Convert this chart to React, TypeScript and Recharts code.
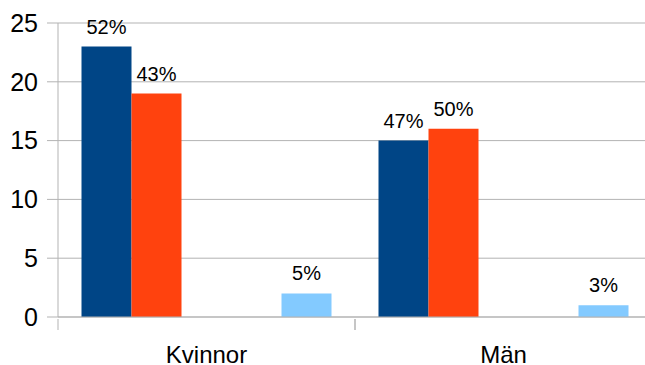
import React from 'react';
import { BarChart, Bar, XAxis, YAxis, CartesianGrid, LabelList } from 'recharts';

const categories = ['Kvinnor', 'Män'];
const seriesA = [23, 15];
const seriesB = [19, 16];
const seriesC = [0, 0];
const seriesD = [0, 0];
const seriesE = [2, 1];
const labelsA = ['52%', '47%'];
const labelsB = ['43%', '50%'];
const labelsE = ['5%', '3%'];
const yTicks = [0, 5, 10, 15, 20, 25];

const data = categories.map((name, i) => ({
    name,
    a: seriesA[i], b: seriesB[i], c: seriesC[i], d: seriesD[i], e: seriesE[i],
    la: labelsA[i], lb: labelsB[i], le: labelsE[i],
}));

const FONT = '"Liberation Sans", Arial, sans-serif';
const GRID = '#b3b3b3';
const BAND = 297;

const CategoryTick = (props: any) => {
    const { x, y, payload } = props;
    return (
        <g>
            <line x1={x - BAND / 2} x2={x - BAND / 2} y1={y} y2={y + 11} stroke={GRID} />
            <line x1={x + BAND / 2} x2={x + BAND / 2} y1={y} y2={y + 11} stroke={GRID} />
            <text x={x} y={y + 44} textAnchor="middle" fontSize={24} fill="#000" fontFamily={FONT}>
                {payload.value}
            </text>
        </g>
    );
};

const labelStyle = { fontSize: 20, fill: '#000', fontFamily: FONT };

export default function App() {
    return (
        <div style={{ position: 'absolute', left: 0, top: 0, width: 645, height: 365, overflow: 'hidden', background: '#fff' }}>
            <BarChart
                width={652}
                height={365}
                data={data}
                margin={{ top: 23, right: 0, left: 0, bottom: 0 }}
                barCategoryGap={23.5}
                barGap={0}
            >
                <CartesianGrid vertical={false} stroke={GRID} />
                <XAxis
                    dataKey="name"
                    height={48}
                    axisLine={{ stroke: GRID }}
                    tickLine={false}
                    tickSize={0}
                    tick={<CategoryTick />}
                    interval={0}
                />
                <YAxis
                    width={58}
                    domain={[0, 25]}
                    ticks={yTicks}
                    axisLine={{ stroke: GRID }}
                    tickLine={{ stroke: GRID }}
                    tickSize={11}
                    tickMargin={9}
                    tick={{ fontSize: 25, fill: '#000', fontFamily: FONT }}
                />
                <Bar dataKey="a" fill="#004586" isAnimationActive={false}>
                    <LabelList dataKey="la" position="top" offset={13} style={labelStyle} />
                </Bar>
                <Bar dataKey="b" fill="#ff420e" isAnimationActive={false}>
                    <LabelList dataKey="lb" position="top" offset={13} style={labelStyle} />
                </Bar>
                <Bar dataKey="c" fill="#ffd320" isAnimationActive={false} />
                <Bar dataKey="d" fill="#579d1c" isAnimationActive={false} />
                <Bar dataKey="e" fill="#83caff" isAnimationActive={false}>
                    <LabelList dataKey="le" position="top" offset={13} style={labelStyle} />
                </Bar>
            </BarChart>
        </div>
    );
}
